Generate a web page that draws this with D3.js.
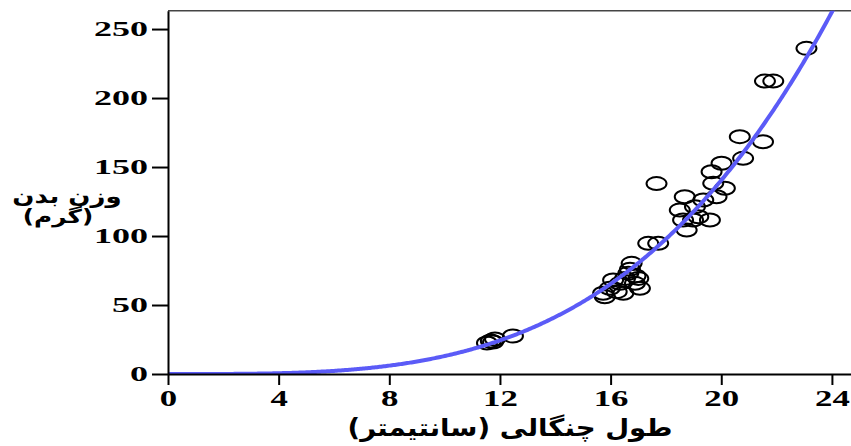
<!DOCTYPE html>
<html lang="fa">
<head>
<meta charset="utf-8">
<title>وزن بدن و طول چنگالی</title>
<script src="https://cdn.jsdelivr.net/npm/d3@7"></script>
<style>
  body { margin: 0; background: #fff; }
  .tick text { font-family: "Liberation Serif", serif; font-weight: bold; fill: #000; }
  .ttl { font-family: "DejaVu Sans", sans-serif; font-weight: bold; fill: #000; }
</style>
</head>
<body>
<script>
// fork length (cm) and body weight (g)
var lengthCm = [11.53, 11.67, 11.82, 11.75, 12.47,
                15.73, 15.79, 15.97, 16.22, 16.34, 16.52, 16.64, 16.76, 16.88, 17.06,
                17.0, 16.46, 16.09, 16.7, 16.9, 17.36, 17.72, 17.66,
                18.5, 18.62, 18.68, 18.75, 18.98, 19.05, 19.17, 19.35, 19.59,
                19.65, 19.71, 19.83, 20.01, 20.13, 20.67, 20.79, 21.51, 21.58, 21.88, 23.08];
var weightG  = [22.5, 23.9, 25.4, 23.2, 27.5,
                58.5, 56, 62.1, 59.7, 65.7, 69.3, 73, 80.2, 65.7, 62.1,
                69.3, 58.5, 68.1, 76, 71, 94.7, 94.7, 138,
                118.8, 111.6, 128.5, 104.3, 111.6, 121.2, 114, 126.1, 111.6,
                146.6, 138.2, 128.5, 152.7, 134.6, 172, 156.3, 168.3, 212.3, 212.3, 236];
var xTicks = [0, 4, 8, 12, 16, 20, 24];
var yTicks = [0, 50, 100, 150, 200, 250];
// fitted power curve W = a * L^b
var fitA = 0.00484, fitB = 3.43;

var w = 851, h = 446;
var padL = 168, padR = 851, padT = 10.7, padB = 374;

var svg = d3.select("body").append("svg")
    .attr("width", w)
    .attr("height", h);

var x = d3.scaleLinear().domain([0, 24.69]).range([padL, padR]);
var y = d3.scaleLinear().domain([0, 263.3]).range([padB, padT]);

svg.append("defs").append("clipPath").attr("id", "plot")
    .append("rect")
    .attr("x", padL).attr("y", padT)
    .attr("width", padR - padL).attr("height", padB - padT);

// top frame line
svg.append("line")
    .attr("x1", padL).attr("x2", padR)
    .attr("y1", padT).attr("y2", padT)
    .attr("stroke", "#444").attr("stroke-width", 1.5);

// points
svg.append("g").selectAll("ellipse")
    .data(lengthCm)
    .enter()
    .append("ellipse")
    .attr("cx", function(d) { return x(d); })
    .attr("cy", function(d, i) { return y(weightG[i]); })
    .attr("rx", 10)
    .attr("ry", 6.5)
    .attr("fill", "none")
    .attr("stroke", "#000")
    .attr("stroke-width", 2);

// fitted curve
var curveX = d3.range(0, 25.01, 0.05);
svg.append("path")
    .datum(curveX)
    .attr("clip-path", "url(#plot)")
    .attr("fill", "none")
    .attr("stroke", "#5b5bf7")
    .attr("stroke-width", 4)
    .attr("d", d3.line()
        .x(function(d) { return x(d); })
        .y(function(d) { return y(fitA * Math.pow(d, fitB)); }));

// axes
var gy = svg.append("g")
    .attr("transform", "translate(" + padL + ",0)")
    .call(d3.axisLeft(y).tickValues(yTicks).tickSize(16).tickSizeOuter(0));
var sy = 1.8;
gy.selectAll(".tick text")
    .attr("font-size", 20)
    .attr("x", -20 / sy)
    .attr("transform", "scale(" + sy + ",1)");

var gx = svg.append("g")
    .attr("transform", "translate(0," + padB + ")")
    .call(d3.axisBottom(x).tickValues(xTicks).tickSize(11).tickSizeOuter(0));
var sx = 1.45;
gx.selectAll(".tick text")
    .attr("font-size", 24)
    .attr("y", 15)
    .attr("transform", "scale(" + sx + ",1)")
    .attr("x", 0);

svg.selectAll(".domain, .tick line")
    .attr("stroke", "#000")
    .attr("stroke-width", 2);

// titles
svg.append("text").attr("class", "ttl")
    .attr("direction", "rtl")
    .attr("text-anchor", "middle")
    .attr("x", 67).attr("y", 203)
    .attr("font-size", 20)
    .attr("transform", "translate(67,0) scale(1.3,1) translate(-67,0)")
    .text("وزن بدن");
svg.append("text").attr("class", "ttl")
    .attr("direction", "rtl")
    .attr("text-anchor", "middle")
    .attr("x", 58).attr("y", 223)
    .attr("font-size", 19)
    .attr("transform", "translate(58,0) scale(1.3,1) translate(-58,0)")
    .text("(گرم)");
svg.append("text").attr("class", "ttl")
    .attr("direction", "rtl")
    .attr("text-anchor", "middle")
    .attr("x", 510).attr("y", 436)
    .attr("font-size", 24)
    .attr("transform", "translate(510,0) scale(1.15,1) translate(-510,0)")
    .text("طول چنگالی (سانتیمتر)");
</script>
</body>
</html>
